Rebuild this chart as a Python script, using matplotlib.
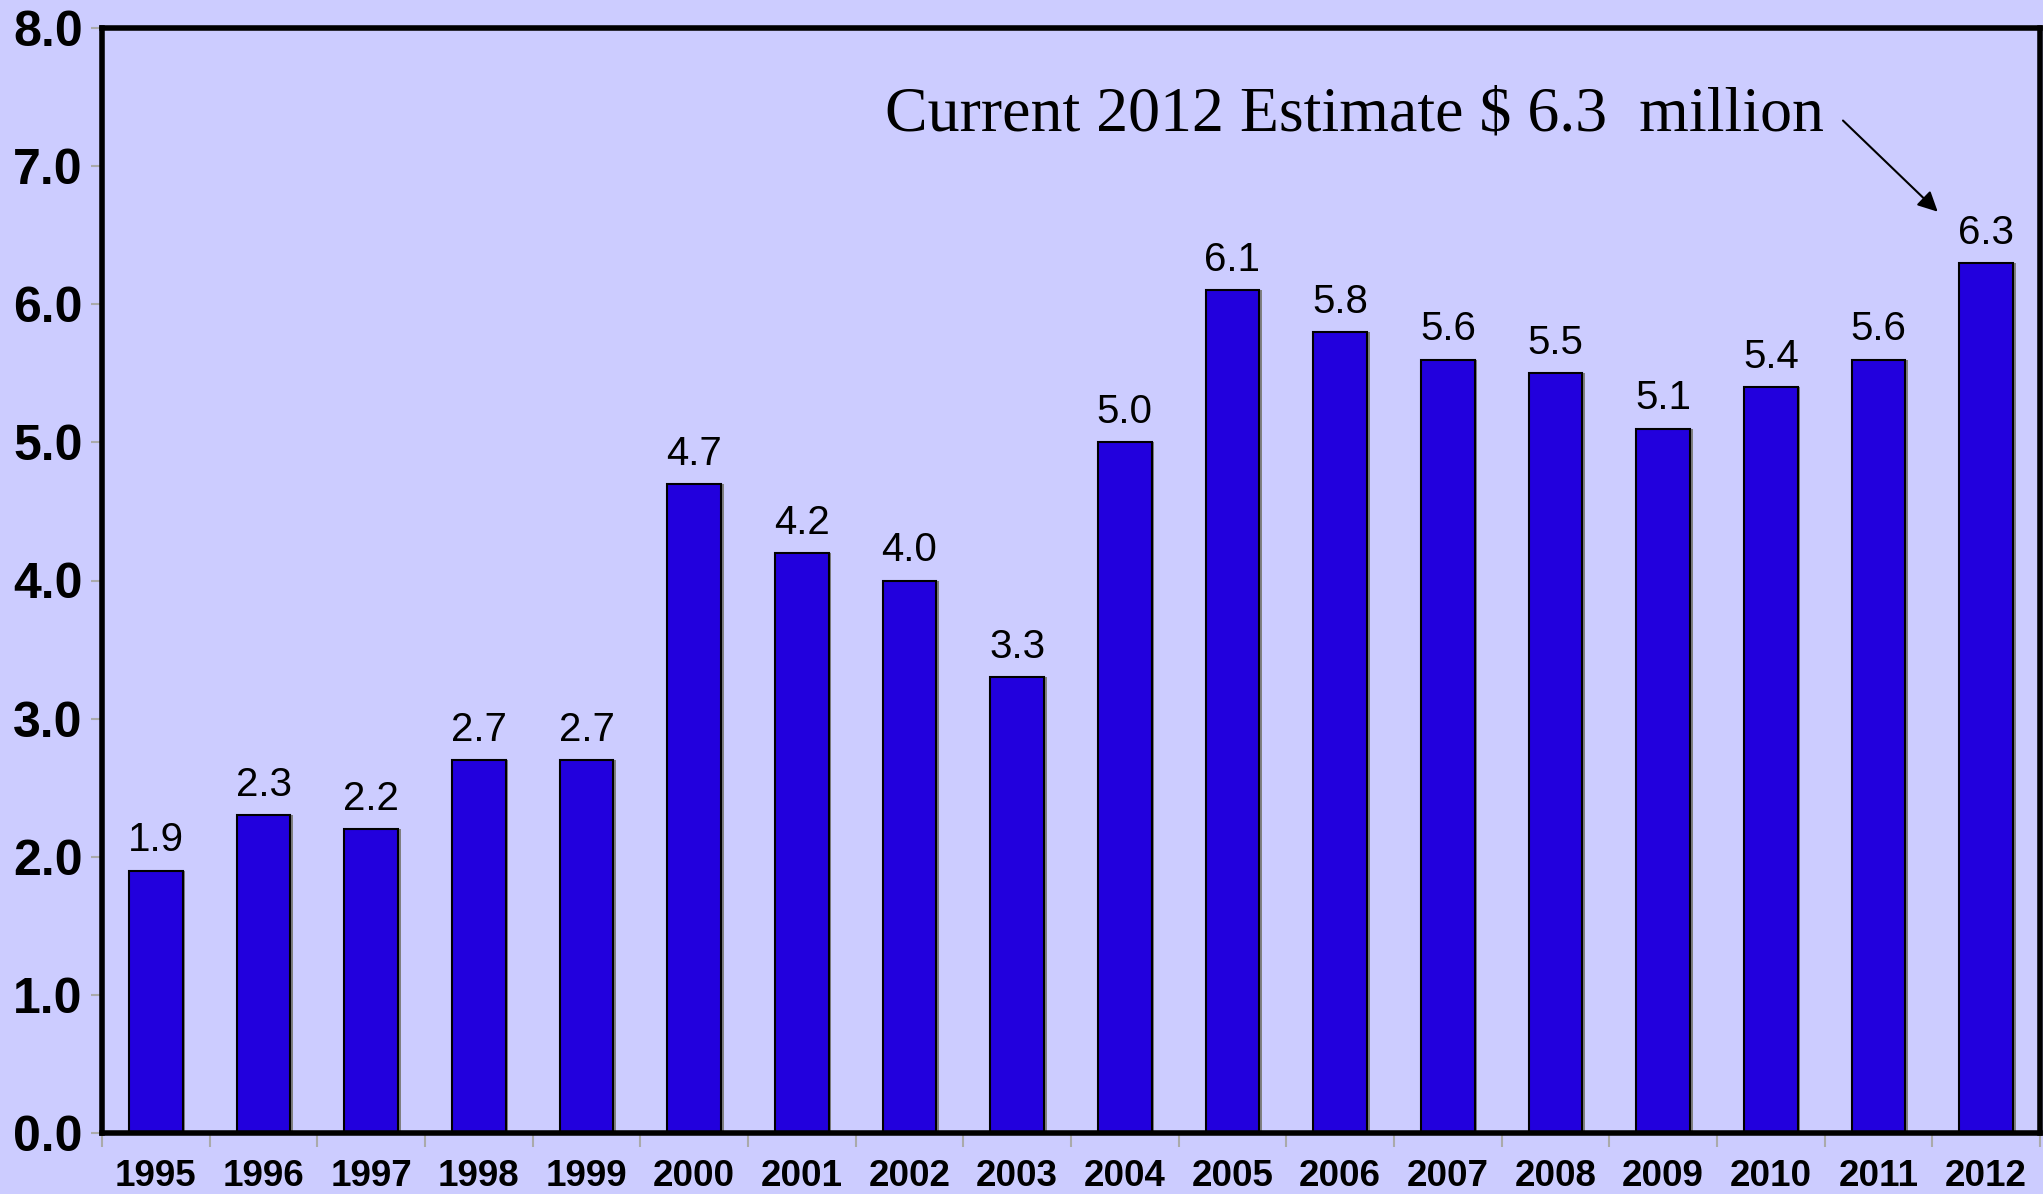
import numpy as np
import matplotlib.pyplot as plt

# Werte (Millionen $)
years = ['1995', '1996', '1997', '1998', '1999', '2000', '2001', '2002', '2003',
         '2004', '2005', '2006', '2007', '2008', '2009', '2010', '2011', '2012']
values = [1.9, 2.3, 2.2, 2.7, 2.7, 4.7, 4.2, 4.0, 3.3,
          5.0, 6.1, 5.8, 5.6, 5.5, 5.1, 5.4, 5.6, 6.3]
note = 'Current 2012 Estimate $ 6.3  million'

bg = '#CCCCFF'
bar_color = '#2200DD'

fig = plt.figure(figsize=(20.43, 11.94), dpi=100, facecolor=bg)
ax = fig.add_axes([102 / 2043, 1 - 1133 / 1194, (2040 - 102) / 2043, (1133 - 28) / 1194])
ax.set_facecolor(bg)

x = np.arange(len(years))

# Schatten (3D-Effekt, leicht nach rechts versetzt)
ax.bar(x + 0.025, values, width=0.5, color='#808080', zorder=1)
bars = ax.bar(x, values, width=0.5, color=bar_color, edgecolor='black',
              linewidth=1.5, zorder=2)
ax.bar_label(bars, labels=[f'{v:.1f}' for v in values], padding=8,
             fontsize=29, family='Liberation Sans')

ax.set_xlim(-0.5, len(years) - 0.5)
ax.set_ylim(0, 8)

ax.set_yticks(np.arange(0, 8.1, 1.0))
ax.set_yticklabels([f'{v:.1f}' for v in np.arange(0, 8.1, 1.0)],
                   fontsize=36, fontweight='bold', family='Liberation Sans')
ax.set_xticks(x)
ax.set_xticklabels(years, fontsize=26.5, fontweight='bold', family='Liberation Sans')
ax.set_xticks(np.arange(-0.5, len(years), 1.0), minor=True)

ax.tick_params(axis='x', which='major', length=0, pad=19)
ax.tick_params(axis='x', which='minor', length=10, color='#AAAAAA', width=1.5, direction='out')
ax.tick_params(axis='y', length=8, color='#AAAAAA', width=1.5, pad=6)

for s in ax.spines.values():
    s.set_linewidth(4)
    s.set_color('black')

# Annotation mit Pfeil zum letzten Balken
ax.annotate('', xy=(len(years) - 1 - 0.45, values[-1] + 0.37),
            xytext=(len(years) - 1 - 1.33, values[-1] + 1.03),
            arrowprops=dict(arrowstyle='-|>', color='black', lw=1.5,
                            mutation_scale=30, shrinkA=0, shrinkB=0))
ax.text(6.77, 7.26, note, fontsize=46, family='Liberation Serif',
        ha='left', va='baseline')

plt.savefig('out.png', dpi=100, facecolor=bg)
